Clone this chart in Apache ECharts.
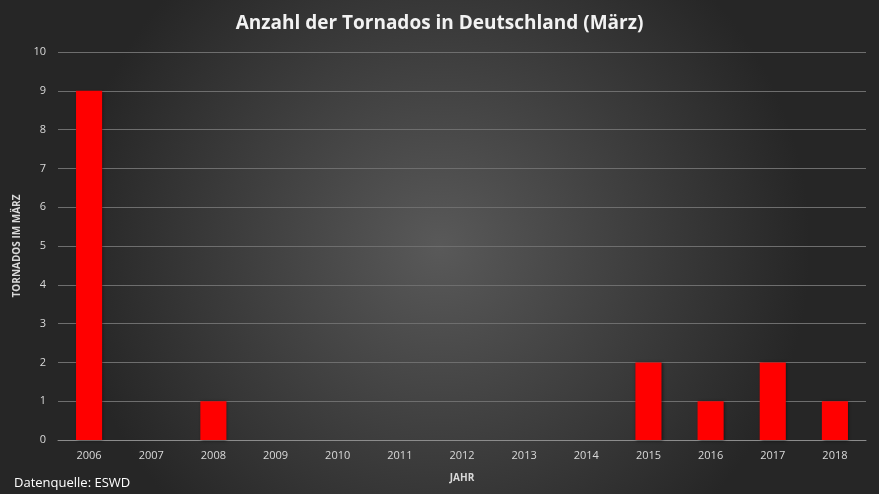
<!DOCTYPE html>
<html lang="de">
<head>
<meta charset="utf-8">
<script src="https://cdn.jsdelivr.net/npm/echarts@6/dist/echarts.min.js"></script>
</head>
<body style="margin: 0">
<div id="container" style="width: 879px; height: 494px"></div>
<script>
const years = ['2006', '2007', '2008', '2009', '2010', '2011', '2012', '2013', '2014', '2015', '2016', '2017', '2018'];
const tornados = [9, 0, 1, 0, 0, 0, 0, 0, 0, 2, 1, 2, 1];

const chart = echarts.init(document.getElementById('container'));
chart.setOption({
  backgroundColor: {
    type: 'radial', x: 0.5, y: 0.5, r: 0.75,
    colorStops: [{ offset: 0, color: '#595959' }, { offset: 1, color: '#262626' }]
  },
  textStyle: { fontFamily: 'Open Sans' },
  title: [{
    text: 'Anzahl der Tornados in Deutschland (März)',
    left: 'center', top: 9,
    textStyle: { color: '#f2f2f2', fontSize: 19, fontWeight: 'bold', fontFamily: 'Open Sans' }
  }, {
    text: 'Datenquelle: ESWD',
    left: 9, top: 472,
    textStyle: { color: '#ffffff', fontSize: 13, fontWeight: 'normal', fontFamily: 'Open Sans' }
  }],
  grid: { left: 58, right: 13, top: 52, bottom: 54 },
  xAxis: {
    type: 'category', data: years,
    name: 'JAHR', nameLocation: 'middle', nameGap: 33,
    nameTextStyle: { color: '#d9d9d9', fontSize: 10, fontWeight: 'bold' },
    axisLine: { lineStyle: { color: '#8c8c8c' } },
    axisTick: { show: false },
    axisLabel: { color: '#d9d9d9', fontSize: 11, margin: 10 }
  },
  yAxis: {
    type: 'value', min: 0, max: 10, interval: 1,
    name: 'TORNADOS IM MÄRZ', nameLocation: 'middle', nameGap: 25,
    nameTextStyle: { color: '#d9d9d9', fontSize: 10, fontWeight: 'bold' },
    axisLine: { show: false }, axisTick: { show: false },
    axisLabel: { color: '#d9d9d9', fontSize: 11, margin: 12 },
    splitLine: { lineStyle: { color: '#6e6e6e', width: 1 } }
  },
  series: [{
    type: 'bar', data: tornados, barWidth: '42%',
    itemStyle: { color: '#ff0000',
      shadowColor: 'rgba(0,0,0,0.5)', shadowBlur: 3, shadowOffsetX: 1, shadowOffsetY: 1 }
  }]
});
</script>
</body>
</html>
